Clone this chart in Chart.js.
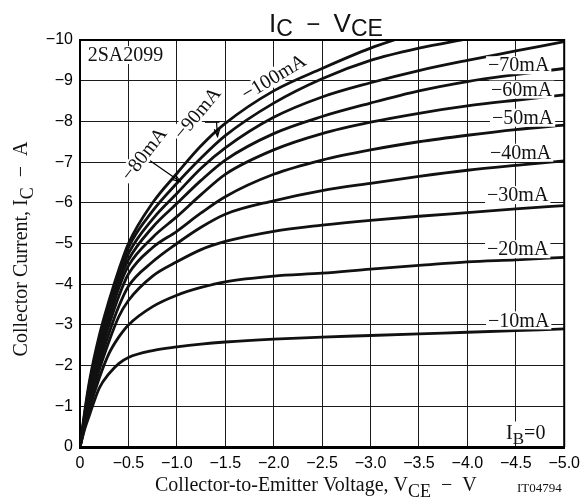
<!DOCTYPE html>
<html>
<head>
<meta charset="utf-8">
<script src="https://cdn.jsdelivr.net/npm/chart.js@4.4.0/dist/chart.umd.min.js"></script>
<style>
  html, body { margin: 0; padding: 0; background: #fff; }
</style>
</head>
<body>
<canvas id="icChart" width="587" height="502"></canvas>
<script>
// collector-to-emitter voltage (V) where each curve was read
const vce = [0, -0.05, -0.1, -0.2, -0.3, -0.4, -0.5, -0.75, -1.0, -1.25, -1.5, -2.0, -2.5, -3.0, -3.5, -4.0, -4.5, -5.0];

// collector current (A), one array per base current step
const ic10 = [0, -0.45, -0.8, -1.45, -1.8, -2.05, -2.2, -2.37, -2.46, -2.53, -2.58, -2.65, -2.7, -2.74, -2.78, -2.82, -2.86, -2.9];
const ic20 = [0, -0.5, -0.95, -1.7, -2.3, -2.7, -3.0, -3.45, -3.73, -3.92, -4.06, -4.2, -4.27, -4.37, -4.46, -4.55, -4.6, -4.66];
const ic30 = [0, -0.55, -1.05, -1.9, -2.6, -3.2, -3.6, -4.2, -4.55, -4.85, -5.05, -5.3, -5.45, -5.57, -5.67, -5.76, -5.85, -5.93];
const ic40 = [0, -0.6, -1.15, -2.05, -2.8, -3.45, -3.95, -4.55, -5.0, -5.4, -5.72, -6.05, -6.3, -6.48, -6.65, -6.8, -6.92, -7.03];
const ic50 = [0, -0.65, -1.25, -2.2, -3.0, -3.7, -4.25, -4.9, -5.3, -5.75, -6.15, -6.7, -7.05, -7.3, -7.5, -7.66, -7.8, -7.91];
const ic60 = [0, -0.7, -1.35, -2.35, -3.15, -3.9, -4.45, -5.15, -5.66, -6.2, -6.7, -7.3, -7.7, -7.98, -8.2, -8.38, -8.52, -8.65];
const ic70 = [0, -0.75, -1.45, -2.45, -3.3, -4.05, -4.6, -5.4, -5.98, -6.55, -7.05, -7.7, -8.12, -8.45, -8.75, -8.98, -9.15, -9.3];
const ic80 = [0, -0.8, -1.5, -2.55, -3.4, -4.15, -4.75, -5.6, -6.23, -6.85, -7.35, -8.1, -8.6, -8.95, -9.25, -9.5, -9.73, -9.96];
const ic90 = [0, -0.85, -1.58, -2.65, -3.5, -4.25, -4.9, -5.8, -6.48, -7.1, -7.65, -8.45, -9.05, -9.5, -9.8, -10.03, null, null];
const ic100 = [0, -0.9, -1.65, -2.75, -3.6, -4.35, -5.0, -6.0, -6.72, -7.4, -7.95, -8.75, -9.3, -9.8, -10.2, null, null, null];

const baseCurrents = ['−10mA', '−20mA', '−30mA', '−40mA', '−50mA', '−60mA', '−70mA', '−80mA', '−90mA', '−100mA'];
const currents = [ic10, ic20, ic30, ic40, ic50, ic60, ic70, ic80, ic90, ic100];

const serif = '"Liberation Serif", "Times New Roman", serif';
const sans = '"Liberation Sans", Arial, sans-serif';

// curve labels, placed in data units (centre of the text)
const notes = [
  {text: '2SA2099', x: -0.08, y: -9.63, align: 'left'},
  {text: '−70mA', x: -4.53, y: -9.38},
  {text: '−60mA', x: -4.56, y: -8.78},
  {text: '−50mA', x: -4.57, y: -8.09},
  {text: '−40mA', x: -4.55, y: -7.23},
  {text: '−30mA', x: -4.52, y: -6.19},
  {text: '−20mA', x: -4.52, y: -4.86},
  {text: '−10mA', x: -4.53, y: -3.11},
  {text: '−80mA', x: -0.66, y: -7.2, rot: -52},
  {text: '−90mA', x: -1.21, y: -8.2, rot: -50},
  {text: '−100mA', x: -2.0, y: -9.09, rot: -31}
];

// leader lines for the crowded labels
const leaders = [
  {from: [-0.713, -7.05], to: [-1.036, -6.52], head: true},
  {from: [-1.29, -7.98], to: [-1.44, -7.98]},
  {from: [-1.41, -7.98], to: [-1.42, -7.63], head: true}
];

const minus = (s) => String(s).replace('-', '\u2212');

const drawParts = (ctx, parts, x, y, align) => {
  let total = 0;
  parts.forEach(p => { ctx.font = p.font; total += ctx.measureText(p.t).width; });
  let cx = align === 'left' ? x : x - total / 2;
  parts.forEach(p => {
    ctx.font = p.font;
    ctx.fillText(p.t, cx, y + (p.dy || 0));
    cx += ctx.measureText(p.t).width;
  });
};

const labelPlugin = {
  id: 'labels',
  afterDatasetsDraw(chart) {
    const ctx = chart.ctx;
    const xs = chart.scales.x;
    const ys = chart.scales.y;
    ctx.save();

    // frame, top and right
    const a = chart.chartArea;
    ctx.strokeStyle = '#000';
    ctx.lineWidth = 2;
    ctx.beginPath();
    ctx.moveTo(a.left, a.top);
    ctx.lineTo(a.right, a.top);
    ctx.lineTo(a.right, a.bottom);
    ctx.stroke();

    ctx.lineWidth = 1.2;
    leaders.forEach(l => {
      const x1 = xs.getPixelForValue(l.from[0]), y1 = ys.getPixelForValue(l.from[1]);
      const x2 = xs.getPixelForValue(l.to[0]), y2 = ys.getPixelForValue(l.to[1]);
      ctx.beginPath();
      ctx.moveTo(x1, y1);
      ctx.lineTo(x2, y2);
      ctx.stroke();
      if (l.head) {
        const ang = Math.atan2(y2 - y1, x2 - x1);
        ctx.beginPath();
        ctx.moveTo(x2 - 8 * Math.cos(ang - 0.35), y2 - 8 * Math.sin(ang - 0.35));
        ctx.lineTo(x2, y2);
        ctx.lineTo(x2 - 8 * Math.cos(ang + 0.35), y2 - 8 * Math.sin(ang + 0.35));
        ctx.stroke();
      }
    });

    ctx.font = `20px ${serif}`;
    ctx.textBaseline = 'middle';
    notes.forEach(n => {
      const px = xs.getPixelForValue(n.x);
      const py = ys.getPixelForValue(n.y);
      const w = ctx.measureText(n.text).width;
      ctx.save();
      ctx.translate(px, py);
      ctx.rotate((n.rot || 0) * Math.PI / 180);
      const left = n.align === 'left' ? 0 : -w / 2;
      ctx.fillStyle = '#fff';
      ctx.fillRect(left - 2, -9, w + 4, 18);
      ctx.fillStyle = '#111';
      ctx.textAlign = 'left';
      ctx.fillText(n.text, left, 1);
      ctx.restore();
    });

    // I_B = 0
    const bx = xs.getPixelForValue(-4.4);
    const by = ys.getPixelForValue(-0.38);
    ctx.fillStyle = '#fff';
    ctx.fillRect(bx - 2, by - 10, 50, 20);
    ctx.fillStyle = '#111';
    ctx.textBaseline = 'alphabetic';
    drawParts(ctx, [
      {t: 'I', font: `20px ${serif}`},
      {t: 'B', font: `17px ${serif}`, dy: 5},
      {t: '=0', font: `20px ${serif}`}
    ], bx, by + 7, 'left');
    ctx.restore();
  },
  afterDraw(chart) {
    const ctx = chart.ctx;
    ctx.save();
    ctx.fillStyle = '#111';
    ctx.textBaseline = 'alphabetic';

    // chart title
    drawParts(ctx, [
      {t: 'I', font: `26px ${sans}`},
      {t: 'C', font: `23px ${sans}`, dy: 4},
      {t: '  −  ', font: `24px ${sans}`},
      {t: 'V', font: `26px ${sans}`},
      {t: 'CE', font: `23px ${sans}`, dy: 4}
    ], 326, 32);

    // x axis title
    drawParts(ctx, [
      {t: 'Collector-to-Emitter Voltage, V', font: `20px ${serif}`},
      {t: 'CE', font: `18px ${serif}`, dy: 6},
      {t: '  −  V', font: `20px ${serif}`}
    ], 155, 491, 'left');
    ctx.font = `13px ${serif}`;
    ctx.fillText('IT04794', 517, 492);

    // y axis title
    ctx.translate(27, 249);
    ctx.rotate(-Math.PI / 2);
    drawParts(ctx, [
      {t: 'Collector Current, I', font: `20px ${serif}`},
      {t: 'C', font: `18px ${serif}`, dy: 6},
      {t: '  −  A', font: `20px ${serif}`}
    ], 0, 0);
    ctx.restore();
  }
};

const renderChart = () => {
  const ctx = document.getElementById('icChart').getContext('2d');
  new Chart(ctx, {
    type: 'line',
    data: {
      datasets: currents.map((ic, i) => ({
        label: baseCurrents[i],
        data: vce.map((v, j) => ({x: v, y: ic[j]})),
        borderColor: '#111',
        borderWidth: 2.8,
        pointRadius: 0,
        fill: false,
        cubicInterpolationMode: 'monotone',
        clip: 0
      }))
    },
    options: {
      responsive: false,
      animation: false,
      devicePixelRatio: 1,
      layout: {padding: {top: 40, right: 16, left: 0, bottom: 0}},
      plugins: {legend: {display: false}, tooltip: {enabled: false}},
      scales: {
        x: {
          type: 'linear',
          min: -5,
          max: 0,
          reverse: true,
          afterFit: (scale) => { scale.height = 55; },
          grid: {color: '#1a1a1a', lineWidth: 1, drawTicks: false},
          border: {color: '#000', width: 3},
          ticks: {
            stepSize: 0.5,
            padding: 7,
            color: '#000',
            font: {family: sans, size: 16},
            callback: (v) => v === 0 ? '0' : minus(v.toFixed(1))
          }
        },
        y: {
          min: -10,
          max: 0,
          reverse: true,
          afterFit: (scale) => { scale.width = 80; },
          grid: {color: '#1a1a1a', lineWidth: 1, drawTicks: false},
          border: {color: '#000', width: 2},
          ticks: {
            stepSize: 1,
            padding: 7,
            color: '#000',
            font: {family: sans, size: 16},
            callback: (v) => minus(v)
          }
        }
      }
    },
    plugins: [labelPlugin]
  });
};

renderChart();
</script>
</body>
</html>
